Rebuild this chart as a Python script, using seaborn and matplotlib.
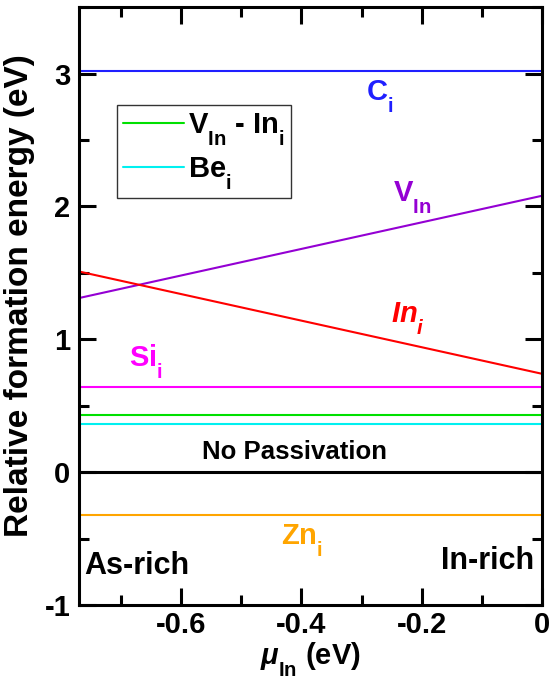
import matplotlib
matplotlib.use("Agg")
import matplotlib.pyplot as plt
import matplotlib._mathtext as mathtext_internal
import seaborn as sns
import pandas as pd
from matplotlib.ticker import MultipleLocator

# chemical potential range (eV)
mu_in = [-0.77, 0.0]

# relative formation energies at the two ends (eV)
c_i = [3.02, 3.02]
v_in = [1.31, 2.08]
in_i = [1.51, 0.74]
si_i = [0.64, 0.64]
vin_ini = [0.43, 0.43]
be_i = [0.36, 0.36]
no_pass = [0.0, 0.0]
zn_i = [-0.32, -0.32]

series = {
    "C_i": (c_i, "#1f1fff"),
    "V_In": (v_in, "#9400d3"),
    "In_i": (in_i, "#ff0000"),
    "Si_i": (si_i, "#ff00ff"),
    "V_In - In_i": (vin_ini, "#00e000"),
    "Be_i": (be_i, "#00f0f0"),
    "No Passivation": (no_pass, "#000000"),
    "Zn_i": (zn_i, "#ffa500"),
}

sns.set_style("ticks", {"axes.edgecolor": "black", "xtick.color": "black",
                        "ytick.color": "black", "text.color": "black",
                        "axes.labelcolor": "black"})
plt.rcParams["font.family"] = ["Liberation Sans", "DejaVu Sans"]
plt.rcParams["font.weight"] = "bold"
plt.rcParams["axes.unicode_minus"] = False
plt.rcParams["mathtext.fontset"] = "custom"
plt.rcParams["mathtext.rm"] = "Liberation Sans:bold"
plt.rcParams["mathtext.bf"] = "Liberation Sans:bold"
plt.rcParams["mathtext.it"] = "Liberation Sans:bold:italic"
plt.rcParams["mathtext.default"] = "bf"
# push subscripts lower, like the original figure
mathtext_internal.FontConstantsBase.sub1 = 0.8

fig = plt.figure(figsize=(5.52, 6.81), dpi=100)
ax = fig.add_axes([0.143, 0.1116, 0.839, 0.878])

for name, (vals, color) in series.items():
    df = pd.DataFrame({"mu": mu_in, "E": vals})
    label = None
    if name == "V_In - In_i":
        label = r"V$_{\mathbf{In}}$ - In$_{\mathbf{i}}$"
    elif name == "Be_i":
        label = r"Be$_{\mathbf{i}}$"
    lw = 2.2 if name == "No Passivation" else 1.5
    sns.lineplot(data=df, x="mu", y="E", color=color, lw=lw, ax=ax,
                 label=label, legend=False)

ax.set_xlim(-0.77, 0)
ax.set_ylim(-1, 3.5)
ax.xaxis.set_minor_locator(MultipleLocator(0.1))
ax.yaxis.set_minor_locator(MultipleLocator(0.5))
ax.set_xticks([-0.6, -0.4, -0.2, 0])
ax.set_xticklabels(["-0.6", "-0.4", "-0.2", "0"])
ax.set_yticks([-1, 0, 1, 2, 3])
ax.set_yticklabels(["-1", "0", "1", "2", "3"])
ax.tick_params(which="both", direction="in", top=True, right=True, width=2.2)
ax.tick_params(which="major", length=12, labelsize=21, pad=6)
ax.tick_params(axis="x", which="major", pad=4)
ax.tick_params(which="minor", length=7)
for lab in ax.get_xticklabels() + ax.get_yticklabels():
    lab.set_fontweight("bold")
for sp in ax.spines.values():
    sp.set_linewidth(2.2)

ax.set_xlabel(r"$\mathit{\mu}_{\mathbf{In}}$ (eV)", fontsize=21, fontweight="bold", labelpad=1)
ax.set_ylabel("Relative formation energy (eV)", fontsize=24, fontweight="bold")
ax.yaxis.set_label_coords(-0.095, 0.518)

leg = ax.legend(loc="upper left", bbox_to_anchor=(0.082, 0.836), fontsize=21,
                frameon=True, fancybox=False, handlelength=2.1, borderpad=0.2,
                labelspacing=0.25, handletextpad=0.15, borderaxespad=0)
leg.get_frame().set_edgecolor("black")
leg.get_frame().set_linewidth(1.0)

ax.text(-0.293, 2.80, r"C$_{\mathbf{i}}$", color="#1f1fff", fontsize=21, fontweight="bold")
ax.text(-0.248, 2.04, r"V$_{\mathbf{In}}$", color="#9400d3", fontsize=21, fontweight="bold")
ax.text(-0.251, 1.13, r"$\mathit{In}_{\mathit{i}}$", color="#ff0000", fontsize=21)
ax.text(-0.686, 0.80, r"Si$_{\mathbf{i}}$", color="#ff00ff", fontsize=21, fontweight="bold")
ax.text(-0.566, 0.10, "No Passivation", color="black", fontsize=18.5, fontweight="bold")
ax.text(-0.434, -0.54, r"Zn$_{\mathbf{i}}$", color="#ffa500", fontsize=21, fontweight="bold")
ax.text(-0.761, -0.77, "As-rich", color="black", fontsize=22, fontweight="bold")
ax.text(-0.013, -0.73, "In-rich", color="black", fontsize=22, fontweight="bold", ha="right")

fig.savefig("out.png", dpi=100)
